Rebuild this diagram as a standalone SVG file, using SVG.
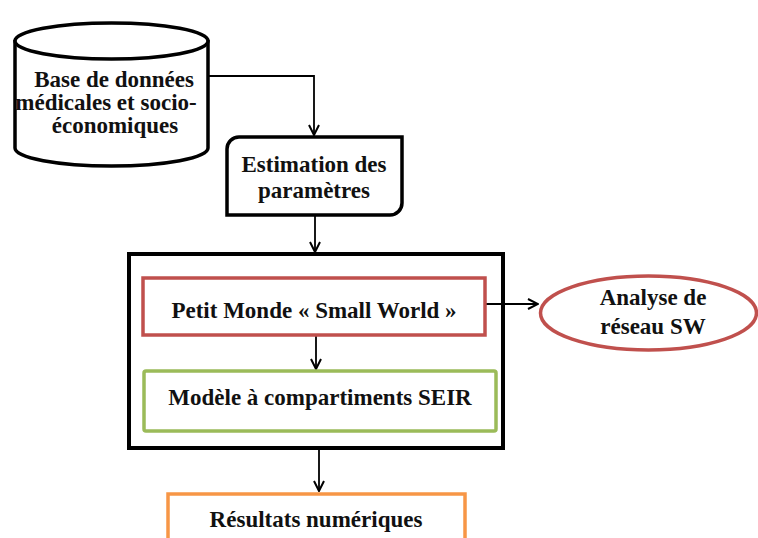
<svg xmlns="http://www.w3.org/2000/svg" width="758" height="538" viewBox="0 0 758 538">
<style>
text{font-family:"Liberation Serif","Times New Roman",serif;font-weight:bold;font-size:23px;fill:#111;text-anchor:middle}
.blk{fill:#fff;stroke:#000;stroke-width:3.5}
.con{fill:none;stroke:#000;stroke-width:1.8}
</style>
<defs>
<marker id="ah" viewBox="0 0 12 12" refX="11" refY="6" markerWidth="12" markerHeight="12" markerUnits="userSpaceOnUse" orient="auto">
<path d="M1,1 L11,6 L1,11" fill="none" stroke="#000" stroke-width="2"/>
</marker>
</defs>
<rect width="758" height="538" fill="#fff"/>
<g id="container">
<rect x="129" y="254" width="374" height="194" fill="#fff" stroke="#000" stroke-width="4"/>
</g>
<g id="connectors">
<path class="con" d="M208,76 H314 V135" marker-end="url(#ah)"/>
<path class="con" d="M315,216 V252" marker-end="url(#ah)"/>
<path class="con" d="M316,335 V369" marker-end="url(#ah)"/>
<path class="con" d="M485,304 H538" marker-end="url(#ah)"/>
<path class="con" d="M319,449 V491" marker-end="url(#ah)"/>
</g>
<g id="db">
<path class="blk" d="M15,40 V148 A96.5,18 0 0 0 208,148 V40"/>
<ellipse class="blk" cx="111.5" cy="41" rx="96.5" ry="18"/>
<text x="114" y="87">Base de données</text>
<text x="106" y="110">médicales et socio-</text>
<text x="115" y="133">économiques</text>
</g>
<g id="estimation">
<path class="blk" d="M239,137 H402 V203 A12,12 0 0 1 390,215 H227 V149 A12,12 0 0 1 239,137 Z"/>
<text x="314" y="172">Estimation des</text>
<text x="314" y="198">paramètres</text>
</g>
<g id="smallworld">
<rect x="143" y="278" width="342" height="57" fill="#fff" stroke="#c0504d" stroke-width="3.5"/>
<text x="314" y="318">Petit Monde « Small World »</text>
</g>
<g id="seir">
<rect x="144" y="371" width="352" height="60" rx="2" fill="#fff" stroke="#9bbb59" stroke-width="3.5"/>
<text x="320" y="405">Modèle à compartiments SEIR</text>
</g>
<g id="analyse">
<ellipse cx="648.5" cy="313" rx="108" ry="37" fill="#fff" stroke="#c0504d" stroke-width="3.5"/>
<text x="653" y="305">Analyse de</text>
<text x="653" y="334">réseau SW</text>
</g>
<g id="resultats">
<rect x="168" y="494" width="297" height="60" fill="#fff" stroke="#f79646" stroke-width="3.5"/>
<text x="316" y="527">Résultats numériques</text>
</g>
</svg>
